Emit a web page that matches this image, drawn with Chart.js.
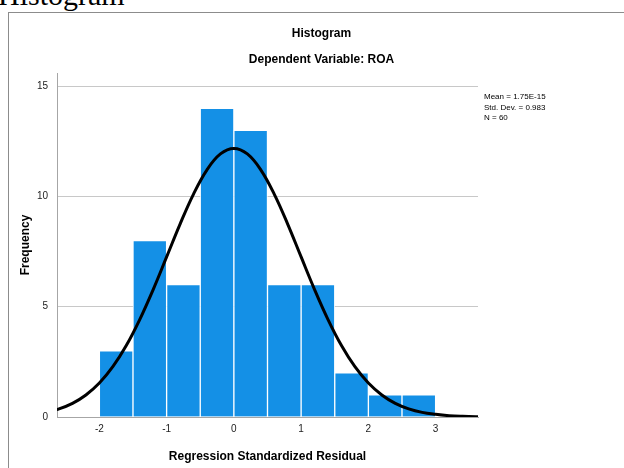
<!DOCTYPE html>
<html>
<head>
<meta charset="utf-8">
<title>Histogram</title>
<script src="https://cdn.jsdelivr.net/npm/chart.js@4.4.1/dist/chart.umd.min.js"></script>
<style>
    html, body { margin: 0; padding: 0; width: 624px; height: 468px; overflow: hidden; background: #fff; }
    #heading { position: absolute; left: -2px; top: -20px; font-family: 'Liberation Serif', 'Times New Roman', serif; font-size: 30px; line-height: 30px; color: #000; white-space: nowrap; }
    #box { position: absolute; left: 8px; top: 12px; width: 640px; height: 480px; border-left: 1px solid #8c8c8c; border-top: 1px solid #8c8c8c; }
    #wrap { position: absolute; left: 9px; top: 13px; width: 625px; height: 455px; }
</style>
</head>
<body>
<div id="heading">Histogram</div>
<div id="box"></div>
<div id="wrap"><canvas id="histChart"></canvas></div>
<script>
// histogram bins (width 0.5) and counts
const binStart = [-2, -1.5, -1, -0.5, 0, 0.5, 1, 1.5, 2, 2.5];
const frequency = [3, 8, 6, 14, 13, 6, 6, 2, 1, 1];

// normal curve
const curveX = [-2.8, -2.6, -2.4, -2.2, -2.0, -1.8, -1.6, -1.4, -1.2, -1.0, -0.8, -0.6, -0.4, -0.2, 0,
    0.2, 0.4, 0.6, 0.8, 1.0, 1.2, 1.4, 1.6, 1.8, 2.0, 2.2, 2.4, 2.6, 2.8, 3.0, 3.2, 3.4, 3.6, 3.8];
const curveY = [0.21, 0.37, 0.62, 1.00, 1.54, 2.28, 3.24, 4.42, 5.78, 7.26, 8.75, 10.11, 11.21, 11.93, 12.18,
    11.93, 11.21, 10.11, 8.75, 7.26, 5.78, 4.42, 3.24, 2.28, 1.54, 1.00, 0.62, 0.37, 0.21, 0.12, 0.06, 0.03, 0.015, 0.01];

const xTicks = [-2, -1, 0, 1, 2, 3];
const yTicks = [0, 5, 10, 15];

const statsLines = ['Mean = 1.75E-15', 'Std. Dev. = 0.983', 'N = 60'];

const sans = "'Liberation Sans', Arial, sans-serif";

const statsBox = {
    id: 'statsBox',
    afterDraw(chart) {
        const ctx = chart.ctx;
        ctx.save();
        ctx.font = '8px ' + sans;
        ctx.fillStyle = '#000';
        ctx.textBaseline = 'middle';
        ctx.textAlign = 'left';
        statsLines.forEach((line, i) => {
            ctx.fillText(line, chart.chartArea.right + 6, 84 + i * 10.5);
        });
        ctx.restore();
    }
};

const ctx = document.getElementById('histChart').getContext('2d');
const histChart = new Chart(ctx, {
    type: 'bar',
    data: {
        datasets: [{
            type: 'line',
            label: 'Normal',
            data: curveX.map((x, i) => ({ x: x, y: curveY[i] })),
            borderColor: '#000',
            borderWidth: 3,
            pointRadius: 0,
            tension: 0.4,
            fill: false,
            order: 0
        }, {
            label: 'Frequency',
            data: binStart.map((b, i) => ({ x: b + 0.25, y: frequency[i] })),
            backgroundColor: '#1490e6',
            borderColor: 'rgba(255, 255, 255, 0.85)',
            borderWidth: 1,
            barPercentage: 1,
            categoryPercentage: 1,
            order: 1
        }]
    },
    options: {
        responsive: true,
        maintainAspectRatio: false,
        animation: false,
        layout: {
            padding: 0
        },
        plugins: {
            legend: { display: false },
            tooltip: { enabled: false },
            title: {
                display: true,
                text: 'Histogram',
                color: '#000',
                font: { family: sans, size: 12, weight: 'bold', lineHeight: 1.2 },
                padding: { top: 13.8, bottom: 0 }
            },
            subtitle: {
                display: true,
                text: 'Dependent Variable: ROA',
                color: '#000',
                font: { family: sans, size: 12, weight: 'bold', lineHeight: 1.2 },
                padding: { top: 11.6, bottom: 5.8 }
            }
        },
        scales: {
            x: {
                type: 'linear',
                min: -2.63,
                max: 3.63,
                offset: false,
                grid: { display: false, drawTicks: false },
                border: { display: true, color: '#a6a6a6', width: 1 },
                ticks: {
                    color: '#222',
                    padding: 6,
                    font: { family: sans, size: 10 }
                },
                afterBuildTicks: scale => {
                    scale.ticks = xTicks.map(v => ({ value: v }));
                },
                afterFit: scale => {
                    scale.height = 51;
                },
                title: {
                    display: true,
                    text: 'Regression Standardized Residual',
                    color: '#000',
                    font: { family: sans, size: 12, weight: 'bold', lineHeight: 1.2 },
                    padding: { top: 0, bottom: 4.3 }
                }
            },
            y: {
                min: 0,
                max: 15.6,
                grid: { color: '#c8c8c8', lineWidth: 1, drawTicks: false },
                border: { display: true, color: '#a6a6a6', width: 1 },
                ticks: {
                    color: '#222',
                    padding: 9,
                    font: { family: sans, size: 10 }
                },
                afterBuildTicks: scale => {
                    scale.ticks = yTicks.map(v => ({ value: v }));
                },
                afterFit: scale => {
                    scale.width = 48;
                },
                title: {
                    display: true,
                    text: 'Frequency',
                    color: '#000',
                    font: { family: sans, size: 12, weight: 'bold', lineHeight: 1.2 },
                    padding: { top: 9.8, bottom: 0 }
                }
            },
            // empty strip on the right that holds the stats text
            side: {
                type: 'linear',
                position: 'right',
                grid: { display: false },
                border: { display: false },
                ticks: { display: false },
                afterFit: scale => {
                    scale.width = 156;
                }
            }
        }
    },
    plugins: [statsBox]
});
</script>
</body>
</html>
